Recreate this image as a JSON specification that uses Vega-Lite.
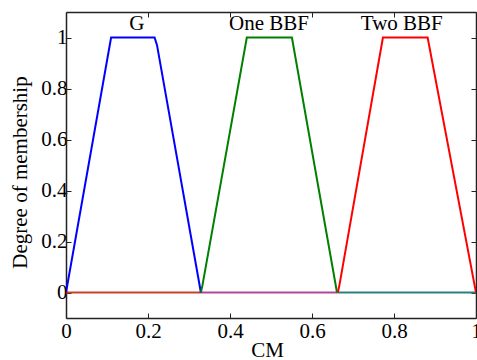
{
  "$schema": "https://vega.github.io/schema/vega-lite/v6.json",
  "width": 410,
  "height": 306,
  "autosize": {"type": "none"},
  "padding": {"left": 66, "top": 12, "right": 1, "bottom": 42},
  "background": "white",
  "config": {
    "view": {"stroke": null},
    "font": "Times New Roman",
    "axis": {
      "labelFont": "Times New Roman",
      "titleFont": "Times New Roman",
      "labelFontSize": 21,
      "titleFontSize": 21,
      "titleFontWeight": "normal",
      "labelColor": "black",
      "titleColor": "black",
      "domainColor": "#222",
      "domainWidth": 1.5,
      "tickColor": "#222",
      "tickSize": -5,
      "tickWidth": 1,
      "grid": false,
      "format": "~g"
    }
  },
  "datasets": {
    "curves": [
      {"series": "b1", "x": 0, "y": 0, "o": 0},
      {"series": "b1", "x": 0.329, "y": 0, "o": 1},
      {"series": "b2", "x": 0.329, "y": 0, "o": 0},
      {"series": "b2", "x": 0.662, "y": 0, "o": 1},
      {"series": "b3", "x": 0.662, "y": 0, "o": 0},
      {"series": "b3", "x": 1, "y": 0, "o": 1},
      {"series": "G", "x": 0, "y": 0, "o": 0},
      {"series": "G", "x": 0.11, "y": 1, "o": 1},
      {"series": "G", "x": 0.216, "y": 1, "o": 2},
      {"series": "G", "x": 0.222, "y": 0.97, "o": 3},
      {"series": "G", "x": 0.329, "y": 0, "o": 4},
      {"series": "One BBF", "x": 0.329, "y": 0, "o": 0},
      {"series": "One BBF", "x": 0.333, "y": 0.03, "o": 1},
      {"series": "One BBF", "x": 0.441, "y": 1, "o": 2},
      {"series": "One BBF", "x": 0.551, "y": 1, "o": 3},
      {"series": "One BBF", "x": 0.661, "y": 0, "o": 4},
      {"series": "Two BBF", "x": 0.663, "y": 0, "o": 0},
      {"series": "Two BBF", "x": 0.667, "y": 0.03, "o": 1},
      {"series": "Two BBF", "x": 0.773, "y": 1, "o": 2},
      {"series": "Two BBF", "x": 0.882, "y": 1, "o": 3},
      {"series": "Two BBF", "x": 1, "y": 0, "o": 4}
    ],
    "labels": [
      {"label": "G", "x": 0.173, "y": 1.03},
      {"label": "One BBF", "x": 0.495, "y": 1.03},
      {"label": "Two BBF", "x": 0.819, "y": 1.03}
    ]
  },
  "layer": [
    {
      "data": {"name": "curves"},
      "mark": {"type": "line", "strokeWidth": 2, "clip": true},
      "encoding": {
        "x": {
          "field": "x", "type": "quantitative",
          "scale": {"domain": [0, 1], "nice": false, "zero": false},
          "axis": {"orient": "bottom", "values": [0, 0.2, 0.4, 0.6, 0.8, 1], "title": "CM", "labelPadding": 7, "titlePadding": -2, "titleX": 201, "labelFlush": false}
        },
        "y": {
          "field": "y", "type": "quantitative",
          "scale": {"domain": [-0.1, 1.1], "nice": false, "zero": false},
          "axis": {"orient": "left", "values": [0, 0.2, 0.4, 0.6, 0.8, 1], "title": "Degree of membership", "labelPadding": 4, "titlePadding": 10, "titleY": 160}
        },
        "color": {
          "field": "series", "type": "nominal",
          "scale": {
            "domain": ["b1", "b2", "b3", "G", "One BBF", "Two BBF"],
            "range": ["#c8402a", "#b4469a", "#2a8080", "#0000ff", "#008000", "#ff0000"]
          },
          "legend": null
        },
        "order": {"field": "o", "type": "quantitative"}
      }
    },
    {
      "data": {"name": "curves"},
      "mark": {"type": "point", "opacity": 0},
      "encoding": {
        "x": {
          "field": "x", "type": "quantitative",
          "scale": {"domain": [0, 1], "nice": false, "zero": false},
          "axis": {"orient": "top", "values": [0, 0.2, 0.4, 0.6, 0.8, 1], "labels": false, "title": null}
        },
        "y": {
          "field": "y", "type": "quantitative",
          "scale": {"domain": [-0.1, 1.1], "nice": false, "zero": false},
          "axis": {"orient": "right", "values": [0, 0.2, 0.4, 0.6, 0.8, 1], "labels": false, "title": null}
        }
      }
    },
    {
      "data": {"name": "labels"},
      "mark": {"type": "text", "font": "Times New Roman", "fontSize": 21, "baseline": "alphabetic", "align": "center", "color": "black"},
      "encoding": {
        "x": {"field": "x", "type": "quantitative", "axis": null},
        "y": {"field": "y", "type": "quantitative", "axis": null},
        "text": {"field": "label"}
      }
    }
  ],
  "resolve": {"axis": {"x": "independent", "y": "independent"}}
}
